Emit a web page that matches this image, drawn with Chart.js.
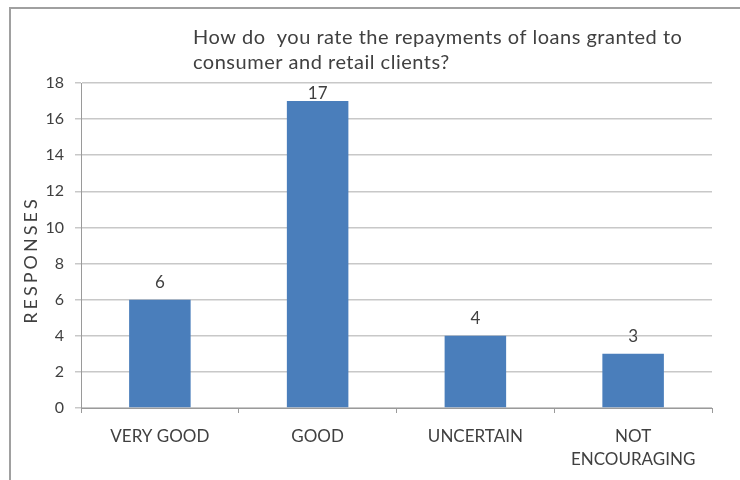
<!DOCTYPE html>
<html>
<head>
<meta charset="utf-8">
<script src="https://cdn.jsdelivr.net/npm/chart.js@4/dist/chart.umd.min.js"></script>
<style>
    body { margin: 0; background: #fff; }
    #raam { position: absolute; left: 0; top: 0; width: 740px; height: 480px; }
    #joon { position: absolute; left: 9px; top: 7px; width: 731px; height: 473px;
            border-left: 2px solid #a0a0a0; border-top: 2px solid #a0a0a0; box-sizing: border-box; }
    canvas { position: absolute; left: 0; top: 0; }
</style>
</head>
<body>
<div id="raam">
    <div id="joon"></div>
    <canvas id="diagramm" width="740" height="480"></canvas>
</div>
<script>
// Küsitluse andmed
const kategooriad = ['VERY GOOD', 'GOOD', 'UNCERTAIN', ['NOT', 'ENCOURAGING']];
const vastused = [6, 17, 4, 3];
const yMin = 0;
const yMax = 18;
const ySamm = 2;
const pealkiri = ['How do  you rate the repayments of loans granted to', 'consumer and retail clients?'];
const yPealkiri = 'RESPONSES';

const font = 'Lato, "Open Sans", sans-serif';
const tekstiVärv = '#404040';

// Plugin, mis joonistab pealkirja, telje nime ja väärtused tulpade kohale
const sildid = {
    id: 'sildid',
    afterDraw(chart) {
        const ctx = chart.ctx;
        const ala = chart.chartArea;
        ctx.save();
        ctx.fillStyle = tekstiVärv;

        // Pealkiri kahel real, vasakult joondatud
        ctx.font = '20px ' + font;
        ctx.letterSpacing = '0.5px';
        ctx.textAlign = 'left';
        ctx.textBaseline = 'alphabetic';
        pealkiri.forEach((rida, i) => {
            ctx.fillText(rida, ala.left + 112, 44 + i * 25);
        });

        // Y-telje nimi, hõredate tähtedega
        ctx.save();
        ctx.translate(31, 260);
        ctx.rotate(-Math.PI / 2);
        ctx.font = '18px ' + font;
        ctx.letterSpacing = '3px';
        ctx.textAlign = 'center';
        ctx.textBaseline = 'middle';
        ctx.fillText(yPealkiri, 0, 0);
        ctx.restore();

        // Väärtused tulpade kohal (ülemine jääb joonisala sisse)
        ctx.letterSpacing = '0px';
        ctx.font = '17px ' + font;
        ctx.textAlign = 'center';
        ctx.textBaseline = 'middle';
        chart.getDatasetMeta(0).data.forEach((tulp, i) => {
            const y = Math.max(tulp.y - 17.5, ala.top + 10.5);
            ctx.fillText(String(vastused[i]), tulp.x, y);
        });
        ctx.restore();
    }
};

const ctx = document.getElementById('diagramm').getContext('2d');
new Chart(ctx, {
    type: 'bar',
    data: {
        labels: kategooriad,
        datasets: [{
            label: yPealkiri,
            data: vastused,
            backgroundColor: '#4a7ebb',
            borderWidth: 0,
            barPercentage: 0.39,
            categoryPercentage: 1
        }]
    },
    options: {
        responsive: false,
        animation: false,
        layout: { padding: { top: 83, right: 28, left: 0, bottom: 0 } },
        plugins: {
            legend: { display: false },
            tooltip: { enabled: false }
        },
        scales: {
            x: {
                afterFit(skaala) { skaala.height = 72; },
                grid: {
                    display: true,
                    drawOnChartArea: false,
                    offset: true,
                    color: '#9a9a9a',
                    tickLength: 5
                },
                border: { color: '#9a9a9a', width: 1 },
                ticks: {
                    color: tekstiVärv,
                    font: { family: font, size: 17, lineHeight: 1.35 },
                    padding: 12,
                    maxRotation: 0
                }
            },
            y: {
                min: yMin,
                max: yMax,
                afterFit(skaala) { skaala.width = 81; },
                grid: { color: '#c8c8c8', lineWidth: 1.5, tickLength: 6 },
                border: { color: '#9a9a9a', width: 1 },
                ticks: { stepSize: ySamm, color: tekstiVärv, font: { family: font, size: 16 }, padding: 11 }
            }
        }
    },
    plugins: [sildid]
});
</script>
</body>
</html>
